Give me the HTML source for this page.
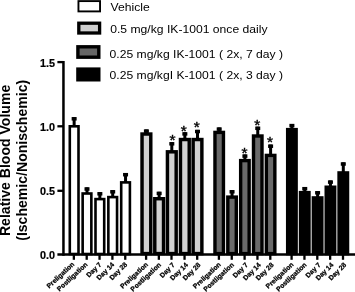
<!DOCTYPE html>
<html><head><meta charset="utf-8"><title>Relative Blood Volume</title>
<style>
html,body{margin:0;padding:0;background:#fff;}
svg{display:block;font-family:"Liberation Sans",sans-serif;}
.lg{font-size:11.8px;fill:#000;}
.tk{font-size:10.8px;font-weight:bold;fill:#000;stroke:#000;stroke-width:0.2px;text-anchor:end;}
.yt{font-size:14.07px;font-weight:bold;fill:#000;text-anchor:middle;}
.xl{font-size:6.8px;font-weight:bold;fill:#000;stroke:#000;stroke-width:0.25px;text-anchor:end;}
.st{font-size:15.5px;fill:#000;stroke:#000;stroke-width:0.4px;text-anchor:middle;}
</style></head><body>
<svg width="355" height="292" viewBox="0 0 355 292">
<rect width="355" height="292" fill="#fff"/>

<rect x="78.45" y="1.1" width="21.6" height="10.3" fill="#fff" stroke="#000" stroke-width="1.9"/>
<rect x="78.8" y="23.2" width="20.8" height="9.8" fill="#cfcfcf" stroke="#000" stroke-width="3.3"/>
<rect x="77.9" y="46.8" width="20.9" height="10.4" fill="#666" stroke="#000" stroke-width="3.4"/>
<rect x="76.2" y="67.4" width="24.3" height="14.1" fill="#000"/>
<text class="lg" transform="translate(110.6,11.3) scale(1.03,1)">Vehicle</text>
<text class="lg" transform="translate(110.2,33.2) scale(1.03,1)">0.5 mg/kg IK-1001 once daily</text>
<text class="lg" transform="translate(109.6,57.5) scale(1.03,1)">0.25 mg/kg IK-1001 ( 2x, 7 day )</text>
<text class="lg" transform="translate(109.6,79.4) scale(1.03,1)">0.25 mg/kgI K-1001 ( 2x, 3 day )</text>
<text class="yt" transform="translate(10.1,160.4) rotate(-90)">Relative Blood Volume</text>
<text class="yt" transform="translate(26.8,160.3) rotate(-90)">(Ischemic/Nonischemic)</text>
<rect x="69.80" y="126.30" width="8.70" height="127.70" fill="#ffffff" stroke="#000" stroke-width="2.6"/>
<rect x="71.65" y="117.05" width="5.0" height="3.5" fill="#000"/>
<rect x="72.65" y="117.20" width="3.0" height="8.80" fill="#000"/>
<rect x="82.65" y="193.50" width="8.70" height="60.50" fill="#ffffff" stroke="#000" stroke-width="2.6"/>
<rect x="84.50" y="187.25" width="5.0" height="3.5" fill="#000"/>
<rect x="85.50" y="187.40" width="3.0" height="5.80" fill="#000"/>
<rect x="95.50" y="199.10" width="8.70" height="54.90" fill="#ffffff" stroke="#000" stroke-width="2.6"/>
<rect x="97.35" y="192.05" width="5.0" height="3.5" fill="#000"/>
<rect x="98.35" y="192.20" width="3.0" height="6.60" fill="#000"/>
<rect x="108.35" y="197.10" width="8.70" height="56.90" fill="#ffffff" stroke="#000" stroke-width="2.6"/>
<rect x="110.20" y="190.05" width="5.0" height="3.5" fill="#000"/>
<rect x="111.20" y="190.20" width="3.0" height="6.60" fill="#000"/>
<rect x="121.20" y="182.40" width="8.70" height="71.60" fill="#ffffff" stroke="#000" stroke-width="2.6"/>
<rect x="123.05" y="172.95" width="5.0" height="3.5" fill="#000"/>
<rect x="124.05" y="173.10" width="3.0" height="9.00" fill="#000"/>
<rect x="142.03" y="134.03" width="8.75" height="119.55" fill="#d2d2d2" stroke="#000" stroke-width="3.45"/>
<rect x="143.90" y="129.35" width="5.0" height="3.5" fill="#000"/>
<rect x="144.90" y="129.50" width="3.0" height="3.80" fill="#000"/>
<rect x="154.78" y="198.72" width="8.75" height="54.85" fill="#d2d2d2" stroke="#000" stroke-width="3.45"/>
<rect x="156.65" y="191.65" width="5.0" height="3.5" fill="#000"/>
<rect x="157.65" y="191.80" width="3.0" height="6.20" fill="#000"/>
<rect x="167.43" y="151.82" width="8.75" height="101.75" fill="#d2d2d2" stroke="#000" stroke-width="3.45"/>
<rect x="169.30" y="142.05" width="5.0" height="3.5" fill="#000"/>
<rect x="170.30" y="142.20" width="3.0" height="8.90" fill="#000"/>
<rect x="180.47" y="139.53" width="8.75" height="114.05" fill="#d2d2d2" stroke="#000" stroke-width="3.45"/>
<rect x="182.35" y="132.15" width="5.0" height="3.5" fill="#000"/>
<rect x="183.35" y="132.30" width="3.0" height="6.50" fill="#000"/>
<rect x="193.12" y="139.53" width="8.75" height="114.05" fill="#d2d2d2" stroke="#000" stroke-width="3.45"/>
<rect x="195.00" y="129.75" width="5.0" height="3.5" fill="#000"/>
<rect x="196.00" y="129.90" width="3.0" height="8.90" fill="#000"/>
<rect x="214.95" y="132.40" width="8.50" height="121.20" fill="#6a6a6a" stroke="#000" stroke-width="3.4"/>
<rect x="216.70" y="127.35" width="5.0" height="3.5" fill="#000"/>
<rect x="217.70" y="127.50" width="3.0" height="4.20" fill="#000"/>
<rect x="227.80" y="197.10" width="8.50" height="56.50" fill="#6a6a6a" stroke="#000" stroke-width="3.4"/>
<rect x="229.55" y="190.05" width="5.0" height="3.5" fill="#000"/>
<rect x="230.55" y="190.20" width="3.0" height="6.20" fill="#000"/>
<rect x="240.65" y="160.60" width="8.50" height="93.00" fill="#6a6a6a" stroke="#000" stroke-width="3.4"/>
<rect x="242.40" y="154.35" width="5.0" height="3.5" fill="#000"/>
<rect x="243.40" y="154.50" width="3.0" height="5.40" fill="#000"/>
<rect x="253.50" y="136.00" width="8.50" height="117.60" fill="#6a6a6a" stroke="#000" stroke-width="3.4"/>
<rect x="255.25" y="126.55" width="5.0" height="3.5" fill="#000"/>
<rect x="256.25" y="126.70" width="3.0" height="8.60" fill="#000"/>
<rect x="266.35" y="155.40" width="8.50" height="98.20" fill="#6a6a6a" stroke="#000" stroke-width="3.4"/>
<rect x="268.10" y="144.45" width="5.0" height="3.5" fill="#000"/>
<rect x="269.10" y="144.60" width="3.0" height="10.10" fill="#000"/>
<rect x="286.95" y="128.90" width="9.90" height="125.40" fill="#000000" stroke="#000" stroke-width="2.0"/>
<rect x="289.40" y="123.85" width="5.0" height="3.5" fill="#000"/>
<rect x="290.40" y="124.00" width="3.0" height="4.90" fill="#000"/>
<rect x="299.80" y="191.90" width="9.90" height="62.40" fill="#000000" stroke="#000" stroke-width="2.0"/>
<rect x="302.25" y="186.95" width="5.0" height="3.5" fill="#000"/>
<rect x="303.25" y="187.10" width="3.0" height="4.80" fill="#000"/>
<rect x="312.65" y="197.20" width="9.90" height="57.10" fill="#000000" stroke="#000" stroke-width="2.0"/>
<rect x="315.10" y="191.05" width="5.0" height="3.5" fill="#000"/>
<rect x="316.10" y="191.20" width="3.0" height="6.00" fill="#000"/>
<rect x="325.50" y="186.50" width="9.90" height="67.80" fill="#000000" stroke="#000" stroke-width="2.0"/>
<rect x="327.95" y="180.35" width="5.0" height="3.5" fill="#000"/>
<rect x="328.95" y="180.50" width="3.0" height="6.00" fill="#000"/>
<rect x="338.35" y="172.20" width="9.90" height="82.10" fill="#000000" stroke="#000" stroke-width="2.0"/>
<rect x="340.80" y="162.25" width="5.0" height="3.5" fill="#000"/>
<rect x="341.80" y="162.40" width="3.0" height="9.80" fill="#000"/>
<text class="st" x="172.4" y="145.2">*</text>
<text class="st" x="183.7" y="135.8">*</text>
<text class="st" x="196.8" y="131.6">*</text>
<text class="st" x="244.6" y="157.8">*</text>
<text class="st" x="257.3" y="130.3">*</text>
<text class="st" x="270.1" y="147.3">*</text>
<rect x="62.2" y="61" width="2.5" height="194.75" fill="#000"/>
<rect x="57.4" y="253.25" width="297.6" height="2.5" fill="#000"/>
<rect x="57.4" y="60.95" width="6" height="2.3" fill="#000"/>
<rect x="57.4" y="125.15" width="6" height="2.3" fill="#000"/>
<rect x="57.4" y="189.65" width="6" height="2.3" fill="#000"/>
<text class="tk" x="55" y="66.85">1.5</text>
<text class="tk" x="55" y="131.05">1.0</text>
<text class="tk" x="55" y="195.15">0.5</text>
<text class="tk" x="55" y="259.25">0.0</text>
<rect x="72.70" y="254.5" width="2.3" height="5.3" fill="#000"/>
<text class="xl" transform="translate(74.85,264.80) rotate(-43)">Preligation</text>
<rect x="85.55" y="254.5" width="2.3" height="5.3" fill="#000"/>
<text class="xl" transform="translate(88.00,265.10) rotate(-43)">Postligation</text>
<rect x="98.40" y="254.5" width="2.3" height="5.3" fill="#000"/>
<text class="xl" transform="translate(101.95,265.00) rotate(-45)">Day 7</text>
<rect x="111.25" y="254.5" width="2.3" height="5.3" fill="#000"/>
<text class="xl" transform="translate(114.80,265.00) rotate(-45)">Day 14</text>
<rect x="124.10" y="254.5" width="2.3" height="5.3" fill="#000"/>
<text class="xl" transform="translate(127.65,265.00) rotate(-45)">Day 28</text>
<rect x="144.95" y="254.5" width="2.3" height="5.3" fill="#000"/>
<text class="xl" transform="translate(148.50,265.10) rotate(-43)">Preligation</text>
<rect x="157.70" y="254.5" width="2.3" height="5.3" fill="#000"/>
<text class="xl" transform="translate(161.55,265.40) rotate(-43)">Postligation</text>
<rect x="170.35" y="254.5" width="2.3" height="5.3" fill="#000"/>
<text class="xl" transform="translate(175.30,265.30) rotate(-45)">Day 7</text>
<rect x="183.40" y="254.5" width="2.3" height="5.3" fill="#000"/>
<text class="xl" transform="translate(188.35,265.30) rotate(-45)">Day 14</text>
<rect x="196.05" y="254.5" width="2.3" height="5.3" fill="#000"/>
<text class="xl" transform="translate(201.00,265.30) rotate(-45)">Day 28</text>
<rect x="217.75" y="254.5" width="2.3" height="5.3" fill="#000"/>
<text class="xl" transform="translate(221.30,265.10) rotate(-43)">Preligation</text>
<rect x="230.60" y="254.5" width="2.3" height="5.3" fill="#000"/>
<text class="xl" transform="translate(234.45,265.40) rotate(-43)">Postligation</text>
<rect x="243.45" y="254.5" width="2.3" height="5.3" fill="#000"/>
<text class="xl" transform="translate(248.40,265.30) rotate(-45)">Day 7</text>
<rect x="256.30" y="254.5" width="2.3" height="5.3" fill="#000"/>
<text class="xl" transform="translate(261.25,265.30) rotate(-45)">Day 14</text>
<rect x="269.15" y="254.5" width="2.3" height="5.3" fill="#000"/>
<text class="xl" transform="translate(274.10,265.30) rotate(-45)">Day 28</text>
<rect x="290.45" y="254.5" width="2.3" height="5.3" fill="#000"/>
<text class="xl" transform="translate(294.00,265.10) rotate(-43)">Preligation</text>
<rect x="303.30" y="254.5" width="2.3" height="5.3" fill="#000"/>
<text class="xl" transform="translate(307.15,265.40) rotate(-43)">Postligation</text>
<rect x="316.15" y="254.5" width="2.3" height="5.3" fill="#000"/>
<text class="xl" transform="translate(321.10,265.30) rotate(-45)">Day 7</text>
<rect x="329.00" y="254.5" width="2.3" height="5.3" fill="#000"/>
<text class="xl" transform="translate(333.95,265.30) rotate(-45)">Day 14</text>
<rect x="341.85" y="254.5" width="2.3" height="5.3" fill="#000"/>
<text class="xl" transform="translate(346.80,265.30) rotate(-45)">Day 28</text>
</svg></body></html>
